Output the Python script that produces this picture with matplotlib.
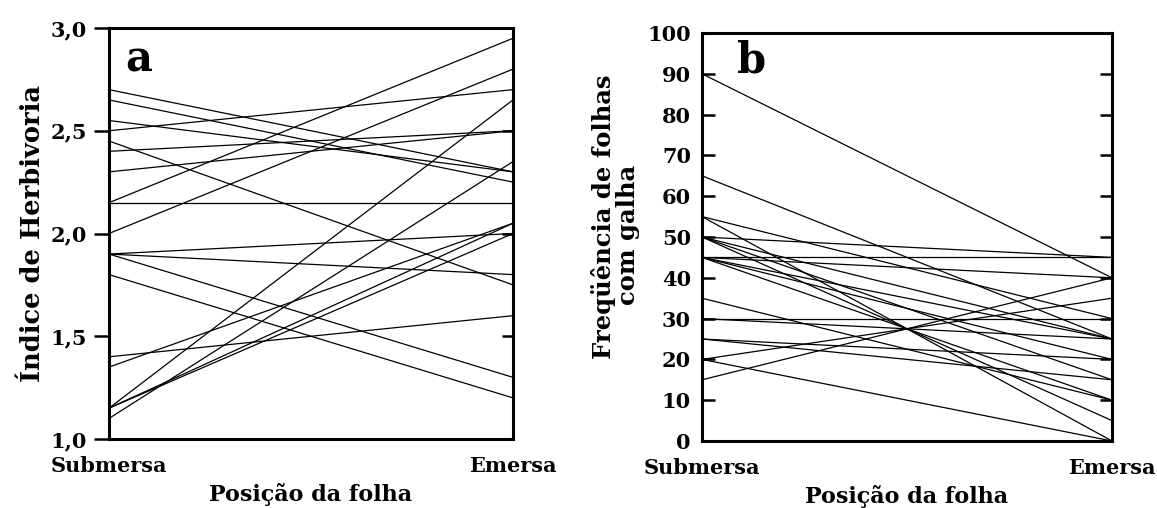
import matplotlib
matplotlib.use("Agg")
import matplotlib.pyplot as plt
import matplotlib.markers as mmarkers

# Panel a: Índice de Herbivoria (Submersa -> Emersa)
herb_sub = [2.70, 2.65, 2.55, 2.50, 2.45, 2.40, 2.30, 2.15, 2.15, 2.00,
            1.90, 1.90, 1.90, 1.80, 1.40, 1.35, 1.15, 1.15, 1.15, 1.10]
herb_eme = [2.30, 2.25, 2.30, 2.70, 1.75, 2.50, 2.50, 2.15, 2.95, 2.80,
            2.00, 1.80, 1.30, 1.20, 1.60, 2.05, 2.65, 2.05, 2.00, 2.35]

# Panel b: Freqüência de folhas com galha (Submersa -> Emersa)
gal_sub = [90, 65, 55, 55, 50, 50, 50, 50, 45, 45, 45, 45, 45,
           35, 30, 30, 25, 25, 20, 20, 15]
gal_eme = [40, 25, 0, 30, 45, 25, 15, 5, 45, 40, 25, 20, 10,
           10, 25, 30, 15, 20, 0, 35, 40]

positions = ["Submersa", "Emersa"]
herb_ticks = [1.0, 1.5, 2.0, 2.5, 3.0]
herb_ticklabels = ["1,0", "1,5", "2,0", "2,5", "3,0"]
gal_ticks = list(range(0, 101, 10))
gal_label_lines = ["Freqüência de folhas", "com galha"]

plt.rcParams["font.family"] = ["DejaVu Serif"]
plt.rcParams["font.weight"] = "bold"

W, H = 1157, 508
fig = plt.figure(figsize=(W / 100, H / 100), dpi=100)

axa = fig.add_axes([109 / W, (H - 439) / H, 404 / W, 411 / H])
axb = fig.add_axes([702 / W, (H - 441) / H, 410 / W, 408 / H])

FS_TICK = 15
FS_XLAB = 16
for ax in (axa, axb):
    for s in ax.spines.values():
        s.set_linewidth(2.2)
    ax.set_xlim(0, 1)
    ax.set_xticks([0, 1])
    ax.set_xticklabels(positions, fontsize=FS_TICK, fontweight="bold")
    ax.tick_params(axis="x", length=0, pad=12)
    ax.set_xlabel("Posição da folha", fontsize=FS_XLAB, fontweight="bold", labelpad=5)

# panel a
for s, e in zip(herb_sub, herb_eme):
    axa.plot([0, 1], [s, e], color="black", lw=0.9, solid_capstyle="butt")
axa.set_ylim(1.0, 3.0)
axa.set_yticks(herb_ticks)
axa.set_yticklabels(herb_ticklabels, fontsize=FS_TICK, fontweight="bold")
axa.tick_params(axis="y", direction="out", length=11, width=1.8, pad=5)
axa.tick_params(axis="y", which="major", right=True, labelright=False)
for t in axa.yaxis.get_major_ticks():
    t.tick2line.set_markersize(8)
    t.tick2line.set_marker(mmarkers.TICKLEFT)
axa.set_ylabel("Índice de Herbivoria", fontsize=18.5, fontweight="bold", labelpad=4)
axa.text(0.04, 0.975, "a", transform=axa.transAxes, fontsize=30,
         fontweight="bold", va="top", ha="left")

# panel b
for s, e in zip(gal_sub, gal_eme):
    axb.plot([0, 1], [s, e], color="black", lw=0.9, solid_capstyle="butt")
axb.set_ylim(0, 100)
axb.set_yticks(gal_ticks)
axb.set_yticklabels([str(v) for v in gal_ticks], fontsize=FS_TICK, fontweight="bold")
axb.tick_params(axis="y", direction="in", length=9, width=1.8, pad=8,
                right=True, labelright=False)
fig.text(603 / W, 1 - 217 / H, gal_label_lines[0], rotation=90, fontsize=17.5,
         fontweight="bold", ha="center", va="center")
fig.text(628 / W, 1 - 235 / H, gal_label_lines[1], rotation=90, fontsize=17.5,
         fontweight="bold", ha="center", va="center")
axb.text(0.085, 0.985, "b", transform=axb.transAxes, fontsize=30,
         fontweight="bold", va="top", ha="left")

fig.savefig("out.png", dpi=100)
